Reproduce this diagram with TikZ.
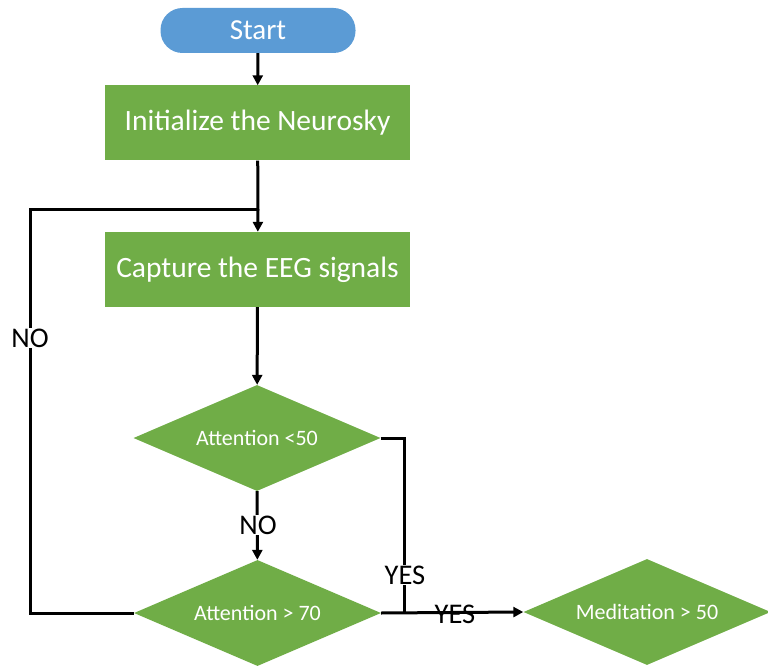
\documentclass[tikz,border=0pt]{standalone}
\usepackage{fontspec}
\setmainfont{Carlito}
\usetikzlibrary{shapes.geometric,arrows.meta}
\definecolor{flowgreen}{HTML}{70AD47}
\definecolor{flowblue}{HTML}{5B9BD5}
\begin{document}
\begin{tikzpicture}[x=1pt,y=-1pt,
  terminal/.style={rectangle,rounded corners=22pt,fill=flowblue,text=white,
    minimum width=195pt,minimum height=45pt,inner sep=0pt,
    font=\fontsize{29}{33}\selectfont},
  process/.style={rectangle,fill=flowgreen,text=white,
    minimum width=305pt,minimum height=75pt,inner sep=0pt,
    font=\fontsize{29.5}{33}\selectfont},
  decision/.style={diamond,aspect=2.3,fill=flowgreen,text=white,
    minimum width=247pt,minimum height=106pt,inner sep=0pt,
    font=\fontsize{22}{25}\selectfont},
  link/.style={line width=3pt},
  flow/.style={link,-{Triangle[length=10pt,width=10pt]}},
  lbl/.style={font=\fontsize{28.5}{32}\selectfont,inner sep=1pt}]
\useasboundingbox (0,0) rectangle (768,668);

% shapes
\node[terminal] (start) at (258,30.5) {Start};
\node[process] (init) at (257.5,123) {\raisebox{-3pt}{Initialize the Neurosky}};
\node[process] (cap) at (257.5,269.5) {\raisebox{-2pt}{Capture the EEG signals}};
\node[decision] (att50) at (257,438) {Attention <50};
\node[decision] (att70) at (257.5,613) {Attention > 70};
\node[decision] (med) at (647,612) {Meditation > 50};

% junction points
\coordinate (join) at (258,210);
\coordinate (back) at (30,613);
\coordinate (yesdown) at (404,438);
\coordinate (yesjoin) at (404,613);

% connectors
\draw[flow] (start) -- (init);
\draw[link] (init) -- (join);
\draw[flow] (join) -- (cap);
\draw[flow] (cap) -- (att50);
\draw[flow] (att50) -- (att70);
\draw[link] (att70.west) -- (back) |- (join);
\draw[link] (att50.east) -- (yesdown) -- (yesjoin);
\draw[flow] (att70.east) -- (med.west);

% branch labels
\node[lbl,fill=white] (noloop) at (30,338) {NO};
\node[lbl,fill=white] (nodown) at (258,525) {NO};
\node[lbl,fill=white] (yesv) at (405,575) {YES};
\node[lbl] (yesh) at (455,614) {YES};
\end{tikzpicture}
\end{document}
